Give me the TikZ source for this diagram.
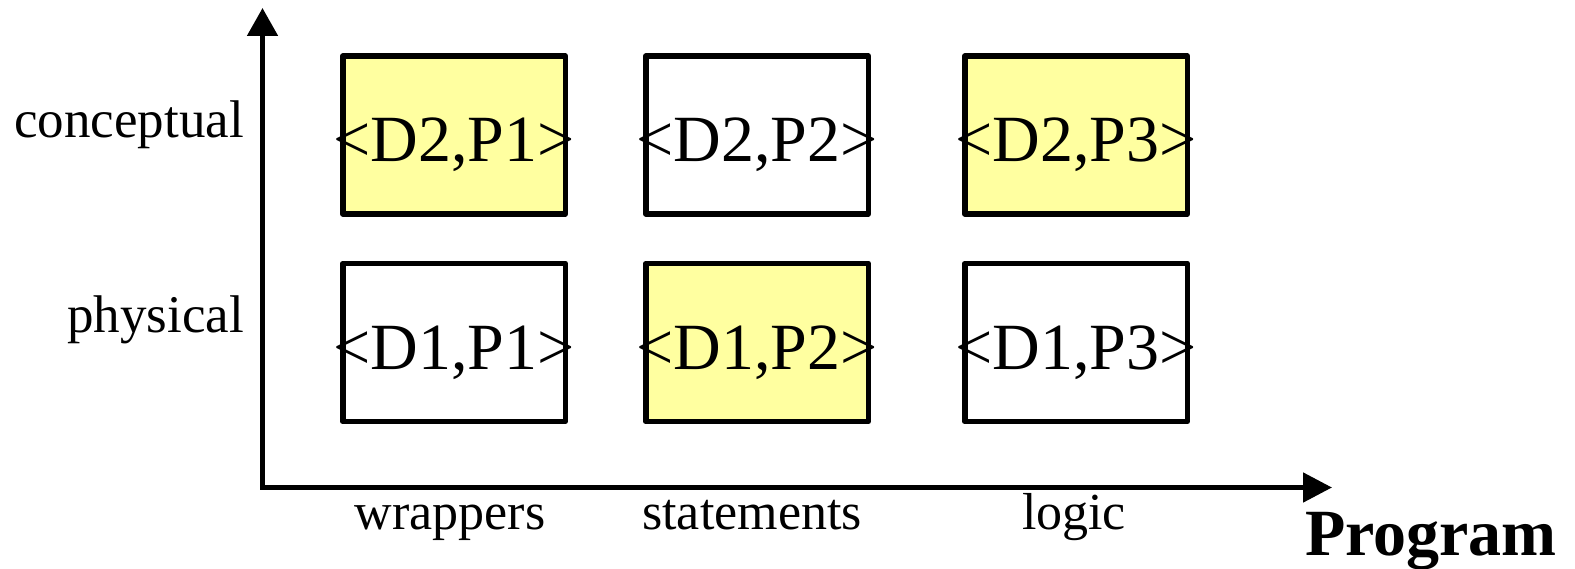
\documentclass[tikz,border=0pt]{standalone}
\usepackage{fontspec}
\setmainfont{Liberation Serif}
\usetikzlibrary{arrows.meta}
\definecolor{boxyellow}{RGB}{255,255,160}
\begin{document}
\begin{tikzpicture}[x=1pt,y=-1pt,
  cell/.style={draw,line width=5.5pt,line join=round,minimum width=222.5pt,minimum height=158pt,inner sep=0pt},
  hot/.style={cell,fill=boxyellow},
  celltext/.style={font=\fontsize{66}{70}\selectfont,inner sep=0pt,anchor=base},
  axislabel/.style={font=\fontsize{53}{56}\selectfont,inner sep=0pt},
  axisline/.style={line width=5pt,line join=miter,{Triangle[length=28pt,width=30pt]}-{Triangle[length=29pt,width=29pt]}}]
\useasboundingbox (0,0) rectangle (1575,569);
% axes
\coordinate (O) at (262.5,487.5);
\coordinate (ytop) at (262.5,8);
\coordinate (xend) at (1332,487.5);
\draw[axisline] (ytop) -- (O) -- (xend);
% boxes
\node[hot]  (b21) at (454,135)   {};
\node[cell] (b22) at (757,135)   {};
\node[hot]  (b23) at (1076,135)  {};
\node[cell] (b11) at (454,342.5) {};
\node[hot]  (b12) at (757,342.5) {};
\node[cell] (b13) at (1076,342.5){};
% box texts
\node[celltext] (t21) at ([yshift=-27pt]b21.center) {<D2,P1>};
\node[celltext] (t22) at ([yshift=-27pt]b22.center) {<D2,P2>};
\node[celltext] (t23) at ([yshift=-27pt]b23.center) {<D2,P3>};
\node[celltext] (t11) at ([yshift=-27pt]b11.center) {<D1,P1>};
\node[celltext] (t12) at ([yshift=-27pt]b12.center) {<D1,P2>};
\node[celltext] (t13) at ([yshift=-27pt]b13.center) {<D1,P3>};
% axis labels
\node[axislabel,anchor=base east] (lc) at (244,138) {conceptual};
\node[axislabel,anchor=base east] (lp) at (244,333) {physical};
\node[axislabel,font=\fontsize{52}{56}\selectfont,anchor=base] (lw) at (450,529) {wrappers};
\node[axislabel,font=\fontsize{52}{56}\selectfont,anchor=base] (ls) at (752,529) {statements};
\node[axislabel,font=\fontsize{52}{56}\selectfont,anchor=base] (ll) at (1074,529) {logic};
\node[font=\fontsize{66}{70}\selectfont\bfseries,inner sep=0pt,anchor=base west] (prog) at (1305,555) {Program};
\end{tikzpicture}
\end{document}
